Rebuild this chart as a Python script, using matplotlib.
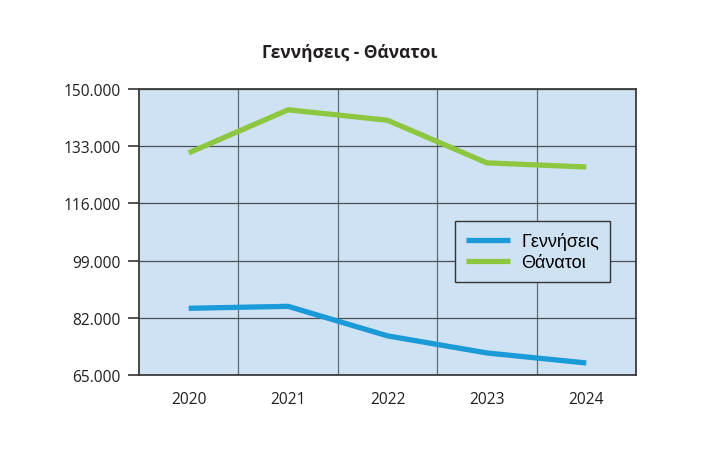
import numpy as np
import matplotlib
matplotlib.use("Agg")
from matplotlib import pyplot as plt

years = ["2020", "2021", "2022", "2023", "2024"]
births = [84767, 85346, 76541, 71455, 68467]
deaths = [131084, 143923, 140801, 128101, 126867]
yticks = [65000, 82000, 99000, 116000, 133000, 150000]

plt.rcParams['font.family'] = ['Open Sans', 'DejaVu Sans']

fig = plt.figure(figsize=(7.13, 4.52), dpi=100)
ax = fig.add_axes([0.195, 0.169, 0.697, 0.631])
ax.set_facecolor('#cfe2f3')

x = np.arange(len(years))
ax.plot(x, births, color='#1a9ad6', lw=3.8, label='Γεννήσεις', solid_capstyle='butt')
ax.plot(x, deaths, color='#8dc63f', lw=3.8, label='Θάνατοι', solid_capstyle='butt')

ax.set_xlim(-0.5, len(years) - 0.5)
ax.set_ylim(65000, 150000)
ax.set_xticks(x)
ax.set_xticklabels(years, fontsize=11.2, color='#231f20')
ax.set_xticks(x[:-1] + 0.5, minor=True)
ax.set_yticks(yticks)
ax.set_yticklabels([f"{v:,}".replace(",", ".") for v in yticks], fontsize=11.2, color='#231f20')
ax.tick_params(axis='x', which='both', length=0, pad=12)
ax.tick_params(axis='y', length=8, width=1.3, color='#444444', pad=5)

ax.grid(axis='y', color='#4a4f55', lw=0.9)
ax.grid(axis='x', which='minor', color='#5f6b78', lw=0.9)
ax.set_axisbelow(True)
for s in ax.spines.values():
    s.set_color('#3a3a3a')
    s.set_linewidth(1.3)

leg = ax.legend(loc='upper left', bbox_to_anchor=(0.636, 0.539), borderaxespad=0,
                frameon=True, fancybox=False, handlelength=2.4, handletextpad=0.65,
                borderpad=0.62, labelspacing=0.22,
                prop={'family': 'Liberation Sans', 'size': 13})
leg.get_frame().set_edgecolor('#333333')
leg.get_frame().set_linewidth(1.0)
leg.get_frame().set_facecolor('#cfe2f3')
leg.get_frame().set_alpha(1)

fig.text(0.491, 0.883, 'Γεννήσεις - Θάνατοι', ha='center', va='center',
         fontsize=12.5, fontweight='bold', color='#231f20')

fig.savefig('out.png', dpi=100)
